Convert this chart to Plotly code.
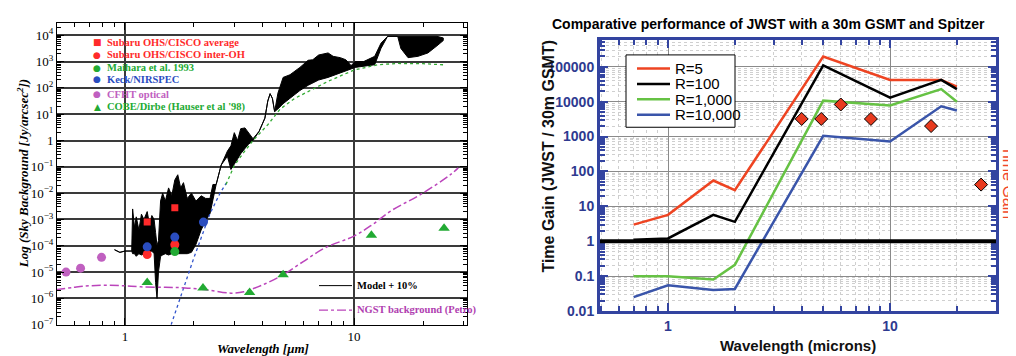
import numpy as np
import plotly.graph_objects as go

W, H = 1016, 356
def px(x): return x / W
def py(y): return 1 - y / H

# ---------------- Left panel data (sky background) ----------------
# Model + 10% spectrum: wavelength [um], upper / lower envelope (log10 Jy/arcsec^2)
spec_wl = [0.90, 0.95, 1.00, 1.07, 1.08, 1.10, 1.12, 1.15, 1.18, 1.21, 1.25, 1.28, 1.31, 1.34,
           1.36, 1.38, 1.40, 1.43, 1.46, 1.50, 1.55, 1.60, 1.65, 1.70, 1.75, 1.80, 1.87, 1.95,
           2.04, 2.15, 2.25, 2.35, 2.42, 2.50, 2.63, 2.80, 2.90, 3.00, 3.10, 3.20, 3.34, 3.45,
           3.62, 3.85, 4.08, 4.20, 4.30, 4.40, 4.50, 4.65, 4.90, 5.25, 5.80, 6.30, 6.60, 7.00,
           7.70, 8.10, 8.70, 9.20, 9.70, 10.1, 11.0, 12.3, 13.1, 14.0, 15.5, 16.0, 17.2, 19.0,
           21.0, 23.0, 24.5]
spec_up = [-4.15, -4.25, -4.2, -4.2, -2.6, -3.3, -2.9, -3.4, -2.8, -3.0, -2.7, -3.2, -2.85, -3.0,
           -3.5, -4.0, -3.8, -2.3, -2.0, -2.3, -1.8, -2.1, -1.5, -1.3, -1.8, -1.6, -2.2, -2.0,
           -2.3, -2.1, -2.2, -2.2, -1.67, -1.67, -0.93, -0.40, -0.2, 0.3, 0.0, 0.45, 0.48, 0.3,
           0.07, 0.35, 0.85, 1.5, 1.78, 1.6, 1.1, 1.8, 2.4, 2.5, 2.78, 3.05, 3.07, 3.25,
           3.33, 3.2, 3.15, 3.07, 2.85, 3.0, 3.0, 3.2, 3.7, 3.96, 3.96, 3.96, 3.96, 3.96,
           3.96, 3.96, 3.9]
spec_lo = [-4.15, -4.25, -4.2, -4.2, -4.3, -4.3, -4.4, -4.3, -4.35, -4.3, -4.3, -4.25, -4.2, -4.3,
           -5.4, -6.0, -5.0, -4.4, -4.35, -4.3, -4.35, -4.3, -4.3, -4.3, -4.3, -4.3, -4.3, -4.25,
           -3.95, -3.4, -3.05, -2.78, -2.2, -1.67, -0.93, -0.6, -1.1, -0.9, -0.7, -0.5, -0.3, -0.15,
           0.0, 0.35, 0.85, 1.5, 1.78, 1.6, 1.1, 1.2, 1.4, 1.6, 1.9, 2.1, 2.2, 2.3,
           2.4, 2.48, 2.55, 2.65, 2.72, 2.78, 2.82, 2.88, 3.5, 3.96, 3.96, 3.5, 3.15, 3.2,
           3.33, 3.6, 3.8]

cont_wl = [2.76, 3.0, 3.3, 3.62, 4.2, 4.75, 5.5, 6.4, 7.7, 8.95, 10.0, 12.7, 15.5, 20.0, 24.5]
cont_log = [-1.67, -0.95, -0.45, 0.0, 0.6, 1.19, 1.6, 1.9, 2.25, 2.5, 2.68, 2.88, 2.93, 2.92, 2.88]

blue_wl = [1.59, 2.0, 2.35, 2.6, 2.8]
blue_log = [-7.0, -4.45, -2.78, -2.0, -1.55]

ngst_wl = [0.5, 0.6, 0.7, 0.84, 1.0, 1.17, 1.5, 1.83, 2.3, 2.9, 3.3, 3.8, 4.2, 4.9, 6.0, 7.5,
           10.0, 12.0, 14.5, 19.6, 26.3, 28.5]
ngst_log = [-5.67, -5.58, -5.52, -5.5, -5.52, -5.56, -5.58, -5.6, -5.68, -5.8, -5.75, -5.56, -5.4,
            -5.1, -4.6, -4.07, -3.63, -3.2, -2.67, -2.04, -1.3, -1.04]

cobe_wl = [1.25, 2.19, 3.5, 4.9, 11.9, 24.7]
cobe_log = [-5.4, -5.6, -5.78, -5.1, -3.6, -3.33]
cfht_wl = [0.553, 0.64, 0.79]
cfht_log = [-5.0, -4.85, -4.44]
interoh_wl = [1.25, 1.65]
interoh_log = [-4.33, -3.96]
avg_wl = [1.25, 1.65]
avg_log = [-3.1, -2.55]
keck_wl = [1.25, 1.65, 2.2]
keck_log = [-4.04, -3.67, -3.1]
maihara_wl = [1.65]
maihara_log = [-4.22]

left_ytick_exp = list(range(-7, 5))
def sup_label(e):
    if e == 0:
        return "1"
    return "10<sup>%s</sup>" % (str(e) if e > 0 else "\u2212" + str(-e))
left_yticktext = [sup_label(e) for e in left_ytick_exp]

# ---------------- Right panel data (time gain) ----------------
gain_wl = [0.7, 1.0, 1.6, 2.0, 5.0, 10.0, 17.0, 20.0]
gain_r5 = [3.0, 5.7, 55, 29, 196000, 42000, 42000, 27000]
gain_r100 = [1.1, 1.2, 5.7, 3.6, 110000, 13000, 42000, 23000]
gain_r1000 = [0.1, 0.1, 0.08, 0.21, 10700, 7800, 23000, 10000]
gain_r10000 = [0.025, 0.055, 0.04, 0.043, 1050, 720, 7400, 5600]
spitzer_wl = [4.0, 4.9, 6.0, 8.2, 15.3, 25.7]
spitzer_gain = [3200, 3200, 8300, 3200, 2000, 42]
right_ytickvals = [0.01, 0.1, 1, 10, 100, 1000, 10000, 100000]
right_yticktext = ["0.01", "0.1", "1", "10", "100", "1000", "10000", "100000"]

series = [("R=5", gain_r5, "#ee4422"), ("R=100", gain_r100, "#000000"),
          ("R=1,000", gain_r1000, "#66c244"), ("R=10,000", gain_r10000, "#3a55aa")]

def p10(a):
    return [10 ** v for v in a]

SERIF = "Liberation Serif"
fig = go.Figure()

# ---- left traces ----
fig.add_trace(go.Scatter(x=spec_wl + spec_wl[::-1], y=p10(spec_up) + p10(spec_lo[::-1]),
                         fill="toself", fillcolor="black", mode="lines",
                         line=dict(color="black", width=1), xaxis="x", yaxis="y", showlegend=False))
fig.add_trace(go.Scatter(x=blue_wl, y=p10(blue_log), mode="lines",
                         line=dict(color="#3355cc", width=1.3, dash="dot"), xaxis="x", yaxis="y", showlegend=False))
fig.add_trace(go.Scatter(x=cont_wl, y=p10(cont_log), mode="lines",
                         line=dict(color="#33aa33", width=1.3, dash="dot"), xaxis="x", yaxis="y", showlegend=False))
fig.add_trace(go.Scatter(x=ngst_wl, y=p10(ngst_log), mode="lines", line_shape="spline",
                         line=dict(color="#bb44bb", width=1.5, dash="dashdot"), xaxis="x", yaxis="y", showlegend=False))
marker_sets = [
    (cfht_wl, cfht_log, "circle", "#c060c0", 9),
    (interoh_wl, interoh_log, "circle", "#ff2a2a", 9),
    (avg_wl, avg_log, "square", "#ff2a2a", 7),
    (keck_wl, keck_log, "circle", "#2a4dbf", 9),
    (maihara_wl, maihara_log, "circle", "#22aa33", 9),
    (cobe_wl, cobe_log, "triangle-up", "#22aa33", 10),
]
for xs, ys, sym, col, sz in marker_sets:
    fig.add_trace(go.Scatter(x=xs, y=p10(ys), mode="markers",
                             marker=dict(symbol=sym, color=col, size=sz, line=dict(width=0)),
                             xaxis="x", yaxis="y", showlegend=False))

# ---- right traces ----
for name, vals, col in series:
    fig.add_trace(go.Scatter(x=gain_wl, y=vals, mode="lines", name=name,
                             line=dict(color=col, width=2.5), xaxis="x2", yaxis="y2", showlegend=False))
fig.add_trace(go.Scatter(x=spitzer_wl, y=spitzer_gain, mode="markers",
                         marker=dict(symbol="diamond", color="#e83a1e", size=10,
                                     line=dict(color="black", width=1)),
                         xaxis="x2", yaxis="y2", showlegend=False))
fig.add_shape(type="line", xref="x2 domain", yref="y2", x0=0, x1=1, y0=1, y1=1,
              line=dict(color="black", width=4))

minor_log = [m * 10.0 ** e for e in range(-9, 7) for m in range(2, 10)]

fig.update_layout(
    width=W, height=H, margin=dict(l=0, r=0, t=0, b=0),
    paper_bgcolor="white", plot_bgcolor="white", showlegend=False,
    xaxis=dict(domain=[px(49), px(459)], type="log", range=[np.log10(0.505), np.log10(31.1)],
               anchor="y", tickmode="array", tickvals=[1, 10], ticktext=["1", "10"],
               ticks="inside", ticklen=7, tickcolor="black", mirror="allticks",
               showline=True, linecolor="black", linewidth=1,
               showgrid=True, gridcolor="#3a3a3a", gridwidth=1.5, zeroline=False,
               minor=dict(tickmode="array", tickvals=minor_log, ticks="inside", ticklen=4,
                          tickcolor="black", showgrid=False),
               tickfont=dict(family=SERIF, size=13, color="black")),
    yaxis=dict(domain=[py(324), py(15)], type="log", range=[-7, 4.48], anchor="x",
               tickmode="array", tickvals=[10.0 ** e for e in left_ytick_exp], ticktext=left_yticktext,
               ticks="inside", ticklen=7, tickcolor="black", mirror="allticks",
               showline=True, linecolor="black", linewidth=1,
               showgrid=True, gridcolor="#3a3a3a", gridwidth=1.5, zeroline=False,
               minor=dict(tickmode="array", tickvals=minor_log, ticks="inside", ticklen=4,
                          tickcolor="black", showgrid=False),
               tickfont=dict(family=SERIF, size=13, color="black")),
    xaxis2=dict(domain=[px(592), px(988)], type="log", range=[np.log10(0.494), np.log10(30)],
                anchor="y2", tickmode="array", tickvals=[1, 10], ticktext=["1", "10"],
                ticks="inside", ticklen=8, tickwidth=2, tickcolor="#3344a0", mirror="allticks",
                showline=True, linecolor="#3344a0", linewidth=3,
                showgrid=True, gridcolor="#8a8a8a", gridwidth=1.3, zeroline=False,
                minor=dict(tickmode="array", tickvals=minor_log, ticks="inside", ticklen=5,
                           tickcolor="#3344a0", showgrid=True, gridcolor="#cfcfcf", griddash="dot"),
                tickfont=dict(family="Arial", size=14, color="#2e3a90", weight="bold")),
    yaxis2=dict(domain=[py(310), py(33)], type="log", range=[-2, 5.76], anchor="x2",
                tickmode="array", tickvals=right_ytickvals, ticktext=right_yticktext,
                ticks="inside", ticklen=8, tickwidth=2, tickcolor="#3344a0", mirror="allticks",
                showline=True, linecolor="#3344a0", linewidth=3,
                showgrid=True, gridcolor="#8a8a8a", gridwidth=1.3, zeroline=False,
                minor=dict(tickmode="array", tickvals=minor_log, ticks="inside", ticklen=5,
                           tickcolor="#3344a0", showgrid=True, gridcolor="#cfcfcf", griddash="dot"),
                tickfont=dict(family="Arial", size=14, color="#2e3a90", weight="bold")),
)

def A(x, y, text, font, xanchor="center", textangle=0):
    return dict(x=px(x), y=py(y), xref="paper", yref="paper", showarrow=False,
                xanchor=xanchor, yanchor="middle", textangle=textangle, text=text, font=font)

ann = []
# left axis titles
ann.append(A(15, 170, "Log (Sky Background [Jy/arcsec<sup>2</sup>])",
             dict(family=SERIF, size=13, color="black", style="italic", weight="bold"), textangle=-90))
ann.append(A(255, 348, "Wavelength [\u03bcm]",
             dict(family=SERIF, size=13, color="black", style="italic", weight="bold")))
# left legend (top-left)
left_leg = [(35, "\u25a0", "Subaru OHS/CISCO average", "#ff2a2a"),
            (48, "\u25cf", "Subaru OHS/CISCO inter-OH", "#ff2a2a"),
            (61, "\u25cf", "Maihara et al. 1993", "#22aa33"),
            (73, "\u25cf", "Keck/NIRSPEC", "#2a4dbf"),
            (88, "\u25cf", "CFHT optical", "#c060c0"),
            (101, "\u25b2", "COBE/Dirbe (Hauser et al '98)", "#22aa33")]
for yy, glyph, txt, col in left_leg:
    ann.append(A(89, yy, glyph, dict(family="DejaVu Sans", size=9, color=col)))
    ann.append(A(97, yy, txt, dict(family=SERIF, size=10.5, color=col, weight="bold"), xanchor="left"))
# left lower-right legend
ann.append(A(347, 284, "Model + 10%", dict(family=SERIF, size=10.5, color="black", weight="bold"), xanchor="left"))
ann.append(A(347, 309, "NGST background (Petro)", dict(family=SERIF, size=10.5, color="#b040b0", weight="bold"),
             xanchor="left"))

# right title & axis titles
ann.append(A(760, 16, "Comparative performance of JWST with a 30m GSMT and Spitzer",
             dict(family="Arial", size=14, color="black", weight="bold")))
ann.append(A(541, 152, "Time Gain (JWST / 30m GSMT)",
             dict(family="Arial", size=16, color="#111111", weight="bold"), textangle=-90))
ann.append(A(790, 345, "Wavelength (microns)", dict(family="Arial", size=15, color="#111111", weight="bold")))
ann.append(A(1001, 178, "Time Gain", dict(family="Arial", size=16, color="#f04828"), textangle=90))
# right legend text
for i, (name, vals, col) in enumerate(series):
    yy = 62 + i * 15.7
    ann.append(A(665, yy, name, dict(family="Arial", size=15, color="black"), xanchor="left"))
fig.update_layout(annotations=ann)

shapes = []
shapes.append(dict(type="line", xref="paper", yref="paper", x0=px(311), x1=px(344), y0=py(284), y1=py(284),
                   line=dict(color="black", width=1)))
shapes.append(dict(type="line", xref="paper", yref="paper", x0=px(311), x1=px(344), y0=py(309), y1=py(309),
                   line=dict(color="#bb44bb", width=1.2, dash="dashdot")))
shapes.append(dict(type="rect", xref="paper", yref="paper", x0=px(618), x1=px(727), y0=py(122), y1=py(48),
                   line=dict(color="black", width=1), fillcolor="white", layer="above"))
for i, (name, vals, col) in enumerate(series):
    yy = 62 + i * 15.7
    shapes.append(dict(type="line", xref="paper", yref="paper", x0=px(629), x1=px(662), y0=py(yy), y1=py(yy),
                       line=dict(color=col, width=2.5), layer="above"))
for s in shapes:
    fig.add_shape(**s)

fig.write_html("out.html")
